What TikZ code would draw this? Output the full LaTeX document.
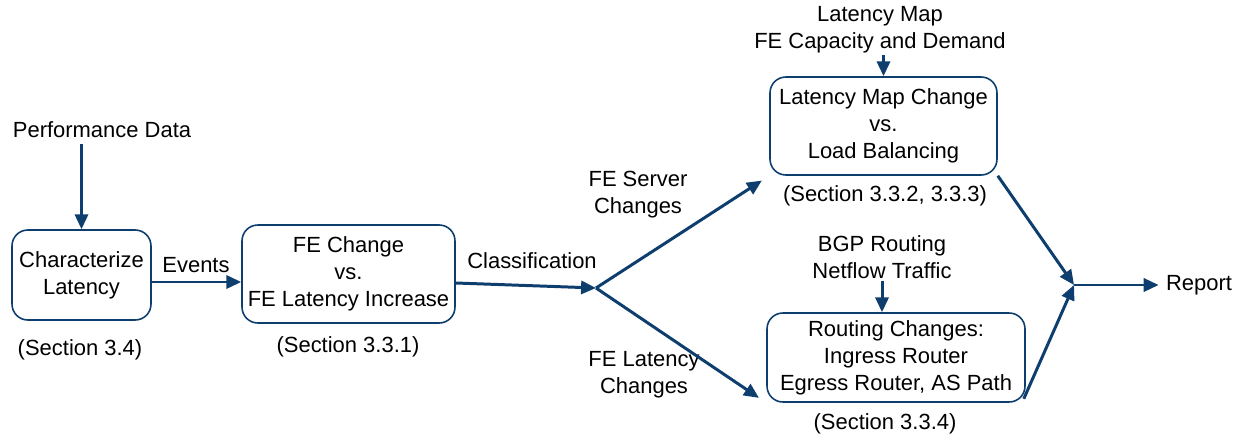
\documentclass[tikz,border=0pt]{standalone}
\usepackage{fontspec}
\setmainfont{Liberation Sans}
\usetikzlibrary{arrows.meta}
\definecolor{flowblue}{RGB}{14,62,110}

\begin{document}
\begin{tikzpicture}[x=0.02cm,y=-0.02cm,
	every node/.style={font=\fontsize{12.5}{15.3}\selectfont,align=center,inner sep=1pt},
	box/.style={draw=flowblue,line width=0.9pt,rounded corners=9pt,inner sep=0pt},
	arr/.style={flowblue,line width=1.7pt,-{Triangle[length=8.5pt,width=7.5pt]}}]
	\useasboundingbox (0,0) rectangle (1253,439);
	% first stage
	\node (perf) at (102,130) {Performance Data};
	\node[box,minimum width=2.78cm,minimum height=1.8cm] (charlat) at (81.5,275) {Characterize\\Latency};
	\node (sec34) at (80,350) {(Section 3.4)};
	\draw[arr,shorten <=2pt] (charlat.north |- perf.south) -- (charlat.north);
	% second stage
	\node[box,minimum width=4.26cm,minimum height=1.96cm] (fechange) at (348.5,274) {FE Change\\vs.\\FE Latency Increase};
	\node (sec331) at (348,347) {(Section 3.3.1)};
	\draw[arr] ([yshift=-0.14cm]charlat.east) -- ([yshift=-0.14cm]charlat.east -| fechange.west);
	\node (events) at (196,265) {Events};
	% classification split
	\coordinate (split) at (596,288);
	\coordinate (merge) at (1074,285);
	\draw[arr] ([yshift=-0.18cm]fechange.east) -- (split);
	\node (classif) at (532,261) {Classification};
	% upper branch
	\node (lmap) at (880,30) {Latency Map\\FE Capacity and Demand};
	\node[box,minimum width=4.54cm,minimum height=1.96cm] (lbal) at (883.5,126) {Latency Map Change\\vs.\\Load Balancing};
	\node (sec332) at (885,196) {(Section 3.3.2, 3.3.3)};
	\draw[arr] (lbal.north |- lmap.south) -- (lbal.north);
	\node (feserver) at (638,195) {FE Server\\Changes};
	\draw[arr,shorten >=5pt] (split) -- (lbal.south west);
	% lower branch
	\node (bgp) at (882,257) {BGP Routing\\Netflow Traffic};
	\node[box,minimum width=5.16cm,minimum height=1.78cm] (routing) at (896,357.5) {Routing Changes:\\Ingress Router\\Egress Router, AS Path};
	\node (sec334) at (885,424) {(Section 3.3.4)};
	\draw[arr] (bgp.south) -- (bgp.south |- routing.north);
	\node (felat) at (644,375) {FE Latency\\Changes};
	\draw[arr,shorten >=5pt] (split) -- (routing.south west);
	% merge and report
	\draw[arr] (lbal.south east) -- (merge);
	\draw[arr] ([shift={(-0.04cm,0.08cm)}]routing.south east) -- (merge);
	\node (report) at (1199,285) {Report};
	\draw[arr,shorten >=3pt] (merge) -- (report.west);
\end{tikzpicture}
\end{document}
